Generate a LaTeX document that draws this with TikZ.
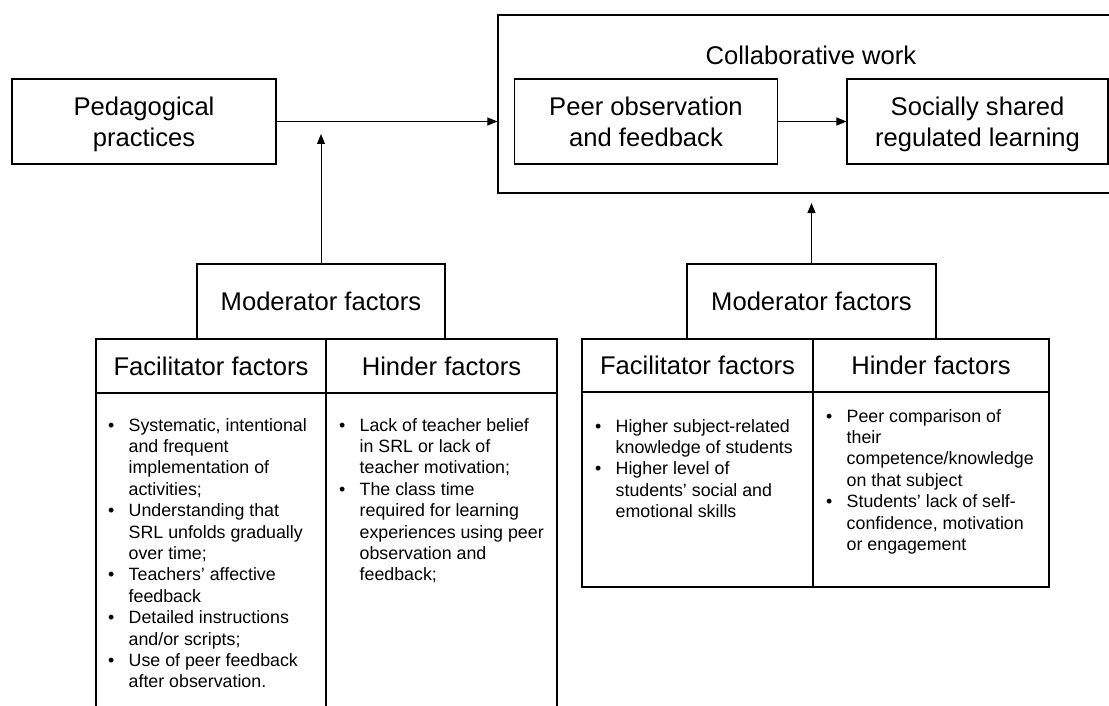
\documentclass[tikz,border=0pt]{standalone}
\usepackage{fontspec}
\setmainfont{Liberation Sans}
\usetikzlibrary{arrows.meta}
\newcommand{\bul}{\makebox[20.5pt][l]{\textbullet}}
\begin{document}
\begin{tikzpicture}[x=1pt,y=-1pt,
  box/.style={draw, line width=1.1pt, rectangle, inner sep=0pt, align=center,
              font=\fontsize{25.6}{31}\selectfont},
  title/.style={anchor=base, inner sep=0pt, font=\fontsize{25.6}{31}\selectfont},
  body/.style={anchor=base west, inner sep=0pt, font=\fontsize{17.8}{21.4}\selectfont},
  conn/.style={line width=1pt, -{Triangle[length=10pt,width=8pt]}},
]
\useasboundingbox (0,0) rectangle (1109,706);
\clip (0,0) rectangle (1109,706);

% top row
\node[box, minimum width=264pt, minimum height=85pt] (ped) at (144,121.5) {Pedagogical\\\smash{practices}};
\node[box, minimum width=622pt, minimum height=178pt] (collab) at (809,104) {};
\node[title] (collabt) at (811,65) {Collaborative work};
\node[box, minimum width=263pt, minimum height=85pt] (peer) at (646,121.5) {Peer observation\\\smash{and feedback}};
\node[box, minimum width=261pt, minimum height=85pt] (social) at (977.5,121.5) {Socially shared\\\smash{regulated learning}};

% moderator boxes
\node[box, minimum width=248pt, minimum height=75pt] (modL) at (321,301.5) {Moderator factors};
\node[box, minimum width=249pt, minimum height=75pt] (modR) at (811.5,301.5) {Moderator factors};

% left table
\node[box, minimum width=230pt, minimum height=54pt] (facL) at (211,366) {Facilitator factors};
\node[box, minimum width=231pt, minimum height=54pt] (hinL) at (441.5,366) {Hinder factors};
\node[box, minimum width=230pt, minimum height=381pt] (bodyFL) at (211,583.5) {};
\node[box, minimum width=231pt, minimum height=381pt] (bodyHL) at (441.5,583.5) {};

% right table
\node[box, minimum width=231pt, minimum height=53pt] (facR) at (697.5,365.5) {Facilitator factors};
\node[box, minimum width=236pt, minimum height=53pt] (hinR) at (931,365.5) {Hinder factors};
\node[box, minimum width=231pt, minimum height=195pt] (bodyFR) at (697.5,489.5) {};
\node[box, minimum width=236pt, minimum height=195pt] (bodyHR) at (931,489.5) {};

% connectors
\coordinate (tipL) at (321,134);
\coordinate (tipR) at (811.5,203);
\draw[conn] (ped.east) -- (ped.east -| collab.west);
\draw[conn] (peer.east) -- (social.west);
\draw[conn] (modL.north) -- (tipL);
\draw[conn] (modR.north) -- (tipR);

% body texts
\node[body] (tFL) at (108,431) {\begin{tabular}[t]{@{}l@{}l@{}}
\bul & Systematic, intentional\\
     & and frequent\\
     & implementation of\\
     & activities;\\
\bul & Understanding that\\
     & SRL unfolds gradually\\
     & over time;\\
\bul & Teachers’ affective\\
     & feedback\\
\bul & Detailed instructions\\
     & and/or scripts;\\
\bul & Use of peer feedback\\
     & after observation.
\end{tabular}};

\node[body] (tHL) at (339,431) {\begin{tabular}[t]{@{}l@{}l@{}}
\bul & Lack of teacher belief\\
     & in SRL or lack of\\
     & teacher motivation;\\
\bul & The class time\\
     & required for learning\\
     & experiences using peer\\
     & observation and\\
     & feedback;
\end{tabular}};

\node[body] (tFR) at (595,432) {\begin{tabular}[t]{@{}l@{}l@{}}
\bul & Higher subject-related\\
     & knowledge of students\\
\bul & Higher level of\\
     & students’ social and\\
     & emotional skills
\end{tabular}};

\node[body] (tHR) at (826,422) {\begin{tabular}[t]{@{}l@{}l@{}}
\bul & Peer comparison of\\
     & their\\
     & competence/knowledge\\
     & on that subject\\
\bul & Students’ lack of self-\\
     & confidence, motivation\\
     & or engagement
\end{tabular}};
\end{tikzpicture}
\end{document}
